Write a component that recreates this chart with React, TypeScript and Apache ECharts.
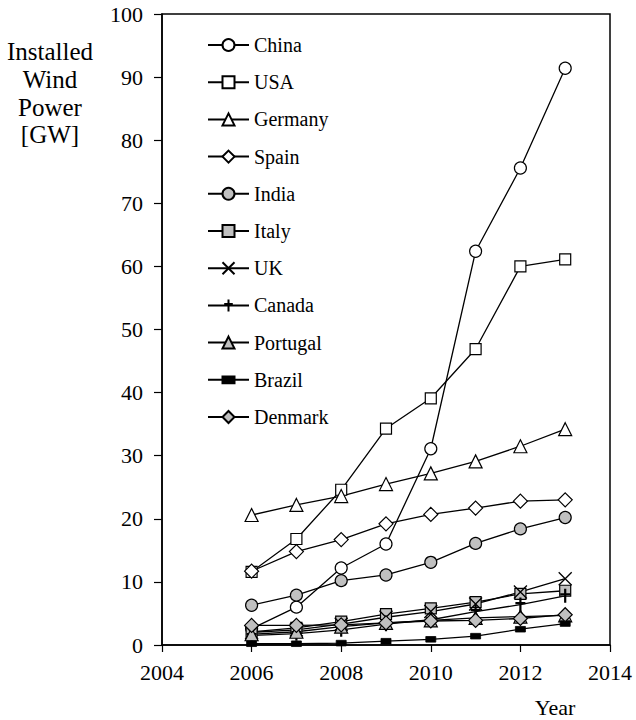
import React, { useEffect, useRef } from "react";
import * as echarts from "echarts";

const years = [2006, 2007, 2008, 2009, 2010, 2011, 2012, 2013];
const china = [2.6, 6.0, 12.2, 16.0, 31.1, 62.4, 75.6, 91.4];
const usa = [11.6, 16.8, 24.6, 34.3, 39.1, 46.9, 60.0, 61.1];
const germany = [20.6, 22.2, 23.6, 25.5, 27.2, 29.1, 31.5, 34.2];
const spain = [11.7, 14.8, 16.7, 19.2, 20.7, 21.7, 22.8, 23.0];
const india = [6.3, 7.9, 10.2, 11.1, 13.1, 16.1, 18.4, 20.2];
const italy = [2.1, 2.7, 3.7, 4.9, 5.8, 6.8, 8.1, 8.6];
const uk = [2.0, 2.4, 3.3, 4.4, 5.3, 6.5, 8.4, 10.5];
const canada = [1.5, 1.8, 2.4, 3.3, 4.0, 5.3, 6.4, 7.8];
const portugal = [1.7, 2.1, 2.9, 3.5, 3.9, 4.3, 4.5, 4.7];
const brazil = [0.2, 0.2, 0.3, 0.6, 0.9, 1.4, 2.5, 3.4];
const denmark = [3.1, 3.1, 3.2, 3.5, 3.8, 3.9, 4.2, 4.8];

const yTicks = [0, 10, 20, 30, 40, 50, 60, 70, 80, 90, 100];
const xTicks = [2004, 2006, 2008, 2010, 2012, 2014];

const FONT = "Liberation Serif";
const GRAY = "#c0c0c0";

type Def = { name: string; values: number[]; symbol: string; size: number; fill: string; bw: number };

const defs: Def[] = [
  { name: "China", values: china, symbol: "circle", size: 12, fill: "#fff", bw: 1.2 },
  { name: "USA", values: usa, symbol: "rect", size: 11, fill: "#fff", bw: 1.2 },
  { name: "Germany", values: germany, symbol: "triangle", size: 13, fill: "#fff", bw: 1.2 },
  { name: "Spain", values: spain, symbol: "diamond", size: 14, fill: "#fff", bw: 1.2 },
  { name: "India", values: india, symbol: "circle", size: 12, fill: GRAY, bw: 1.2 },
  { name: "Italy", values: italy, symbol: "rect", size: 11, fill: GRAY, bw: 1.2 },
  { name: "UK", values: uk, symbol: "path://M0,0L10,10M10,0L0,10", size: 13, fill: "none", bw: 1.3 },
  { name: "Canada", values: canada, symbol: "path://M-2,0M12,14M5,0L5,14M0,5.5L10,5.5", size: 14, fill: "none", bw: 2.2 },
  { name: "Portugal", values: portugal, symbol: "triangle", size: 13, fill: GRAY, bw: 1.2 },
  { name: "Brazil", values: brazil, symbol: "path://M0,0M10,10M0,2.2L10,2.2L10,7.8L0,7.8Z", size: 10, fill: "#000", bw: 0.8 },
  { name: "Denmark", values: denmark, symbol: "diamond", size: 14, fill: GRAY, bw: 1.2 },
];

export default function App() {
  const ref = useRef<HTMLDivElement>(null);
  useEffect(() => {
    if (!ref.current) return;
    const chart = echarts.init(ref.current, null, { renderer: "svg" });
    const series = defs.map((d) => ({
      name: d.name,
      type: "line",
      data: years.map((y, i) => [y, d.values[i]]),
      symbol: d.symbol,
      symbolSize: d.size,
      showAllSymbol: true,
      lineStyle: { color: "#000", width: 1.3 },
      itemStyle: { color: d.fill, borderColor: "#000", borderWidth: d.bw },
      emphasis: { disabled: true },
    }));
    chart.setOption({
      animation: false,
      backgroundColor: "#fff",
      textStyle: { fontFamily: FONT },
      grid: { left: 162, top: 14, right: 26, bottom: 75, show: true, borderColor: "#000", borderWidth: 1.5, containLabel: false },
      legend: {
        orient: "vertical",
        left: 202,
        top: 30,
        itemWidth: 41,
        itemHeight: 15,
        itemGap: 17.2,
        textStyle: { fontFamily: FONT, fontSize: 20, color: "#000" },
        data: defs.map((d) => d.name),
      },
      xAxis: {
        type: "value",
        min: xTicks[0],
        max: xTicks[xTicks.length - 1],
        interval: 2,
        splitLine: { show: false },
        axisLine: { show: true, lineStyle: { color: "#000", width: 1.5 } },
        axisTick: { show: true, inside: false, length: 7, lineStyle: { color: "#000", width: 1.2 } },
        axisLabel: { color: "#000", fontSize: 22, fontFamily: FONT, margin: 16, formatter: (v: number) => String(v) },
      },
      yAxis: {
        type: "value",
        min: yTicks[0],
        max: yTicks[yTicks.length - 1],
        interval: 10,
        splitLine: { show: false },
        axisLine: { show: true, lineStyle: { color: "#000", width: 1.5 } },
        axisTick: { show: true, inside: false, length: 8, lineStyle: { color: "#000", width: 1.2 } },
        axisLabel: { color: "#000", fontSize: 22, fontFamily: FONT, margin: 19 },
      },
      graphic: [
        {
          type: "text",
          x: 50,
          y: 38,
          style: {
            text: "Installed\nWind\nPower\n[GW]",
            fontFamily: FONT,
            fontSize: 25,
            lineHeight: 27.7,
            fill: "#000",
            align: "center",
            verticalAlign: "top",
          },
        },
        {
          type: "text",
          x: 555,
          y: 707,
          style: { text: "Year", fontFamily: FONT, fontSize: 22, fill: "#000", align: "center", verticalAlign: "middle" },
        },
      ],
      series,
    });
    return () => chart.dispose();
  }, []);
  return <div ref={ref} style={{ width: 636, height: 720, position: "absolute", left: 0, top: 0 }} />;
}
